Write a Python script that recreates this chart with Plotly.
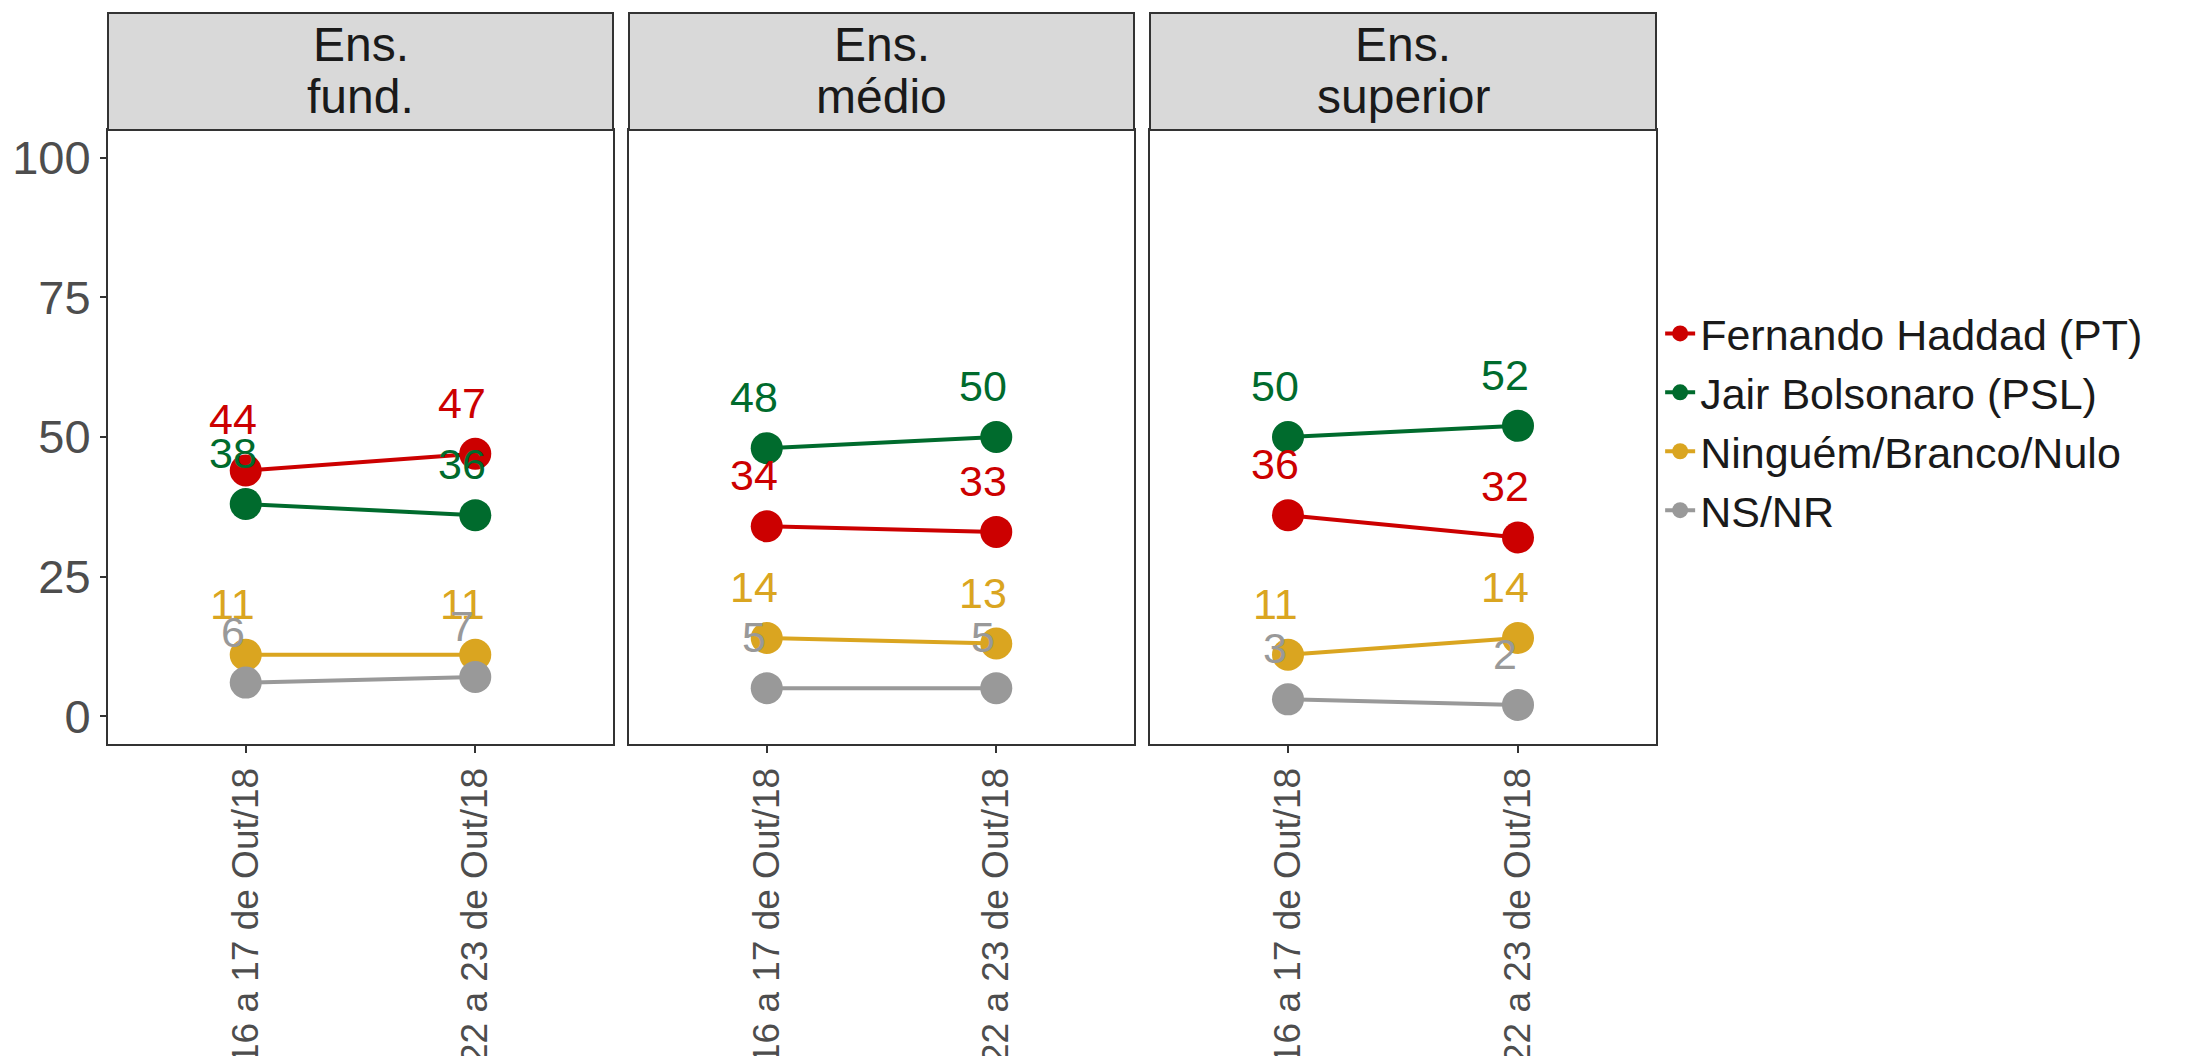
import plotly.graph_objects as go

# dados
datas = ["16 a 17 de Out/18", "22 a 23 de Out/18"]
paineis = [["Ens.", "fund."], ["Ens.", "médio"], ["Ens.", "superior"]]
series = ["Fernando Haddad (PT)", "Jair Bolsonaro (PSL)", "Ninguém/Branco/Nulo", "NS/NR"]

haddad = [[44, 47], [34, 33], [36, 32]]
bolsonaro = [[38, 36], [48, 50], [50, 52]]
ninguem = [[11, 11], [14, 13], [11, 14]]
nsnr = [[6, 7], [5, 5], [3, 2]]

cores = ["#CC0000", "#006B2D", "#DAA520", "#999999"]
valores = [haddad, bolsonaro, ninguem, nsnr]

FONTE = "Liberation Sans, Arial, sans-serif"
W, H = 2197, 1056
dominios_x = [[100 / W, 605 / W], [621 / W, 1126 / W], [1142 / W, 1648 / W]]
dominio_y = [1 - 736 / H, 1 - 122 / H]
topo_strip = 1 - 5 / H

fig = go.Figure()

for p in range(3):
    xa = "x" if p == 0 else f"x{p + 1}"
    ya = "y" if p == 0 else f"y{p + 1}"
    for s in range(4):
        fig.add_trace(go.Scatter(
            x=datas, y=valores[s][p], xaxis=xa, yaxis=ya,
            mode="lines+markers", name=series[s],
            line=dict(color=cores[s], width=4),
            marker=dict(color=cores[s], size=32),
            legendgroup=series[s], showlegend=(p == 0),
        ))
    for s in range(4):
        for i in range(2):
            fig.add_annotation(
                x=datas[i], y=valores[s][p][i], xref=xa, yref=ya,
                text=str(valores[s][p][i]), showarrow=False,
                xshift=-13, yshift=51, yanchor="middle",
                font=dict(family=FONTE, size=43, color=cores[s]),
            )

    # faixa do painel
    fig.add_shape(type="rect", xref="paper", yref="paper",
                  x0=dominios_x[p][0], x1=dominios_x[p][1],
                  y0=dominio_y[1], y1=topo_strip,
                  fillcolor="#D9D9D9", line=dict(color="#333333", width=2))
    meio = (dominio_y[1] + topo_strip) / 2
    for k, linha in enumerate(paineis[p]):
        fig.add_annotation(x=sum(dominios_x[p]) / 2, y=meio,
                           xref="paper", yref="paper", text=linha, showarrow=False,
                           yanchor="middle", xanchor="center",
                           yshift=27 if k == 0 else -25,
                           font=dict(family=FONTE, size=48, color="#1A1A1A"))

eixo_x = dict(type="category", range=[-0.6, 1.6], showgrid=False, zeroline=False,
              showline=True, mirror=True, linecolor="#333333", linewidth=2,
              ticks="outside", ticklen=7, tickwidth=2, tickcolor="#333333",
              tickangle=-90, tickfont=dict(family=FONTE, size=37, color="#4D4D4D"),
              automargin=False)
eixo_y = dict(range=[-5, 105], tickvals=[0, 25, 50, 75, 100], showgrid=False,
              zeroline=False, showline=True, mirror=True, linecolor="#333333",
              linewidth=2, automargin=False)

for p in range(3):
    sx = "" if p == 0 else str(p + 1)
    fig.layout["xaxis" + sx] = dict(eixo_x, domain=dominios_x[p], anchor="y" + sx)
    if p == 0:
        fig.layout["yaxis"] = dict(eixo_y, domain=dominio_y, anchor="x",
                                   ticks="outside", ticklen=6, tickwidth=2,
                                   tickcolor="#333333",
                                   tickfont=dict(family=FONTE, size=47, color="#4D4D4D"))
    else:
        fig.layout["yaxis" + sx] = dict(eixo_y, domain=dominio_y, anchor="x" + sx,
                                        matches="y", showticklabels=False, ticks="")

fig.update_layout(
    width=W, height=H,
    margin=dict(l=0, r=0, t=0, b=0),
    paper_bgcolor="white", plot_bgcolor="white",
    font=dict(family=FONTE),
    legend=dict(x=0.752, xanchor="left", y=1 - 414 / H, yanchor="middle",
                font=dict(family=FONTE, size=43, color="#1A1A1A"),
                tracegroupgap=0, itemwidth=30, bgcolor="rgba(0,0,0,0)"),
)

fig.write_html("out.html")
